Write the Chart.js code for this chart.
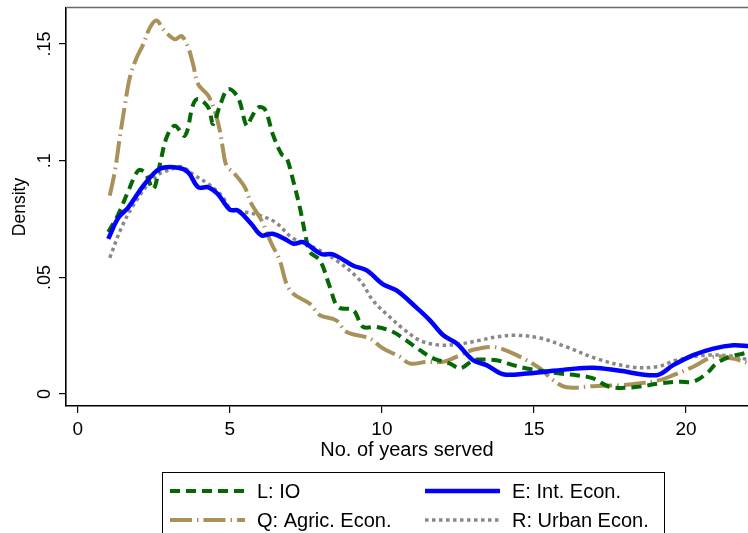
<!DOCTYPE html>
<html>
<head>
<meta charset="utf-8">
<script src="https://cdn.jsdelivr.net/npm/chart.js@4.4.1/dist/chart.umd.min.js"></script>
<style>
  html, body { margin: 0; padding: 0; background: #fff; }
  #wrap { width: 748px; height: 533px; }
</style>
</head>
<body>
<div id="wrap"><canvas id="densityChart" width="748" height="533"></canvas></div>
<script>
// ── Data ──
const xTickValues = [0, 5, 10, 15, 20];
const xTickLabels = ['0', '5', '10', '15', '20'];
const yTickValues = [0, 0.05, 0.1, 0.15];
const yTickLabels = ['0', '.05', '.1', '.15'];

// L: IO
const ioX = [1.0, 1.33, 1.66, 1.98, 2.2, 2.48, 2.7, 2.92, 3.19, 3.52, 3.79, 3.96, 4.29, 4.45, 4.67, 4.94, 5.27, 5.55, 5.71, 5.93, 6.15, 6.42, 6.7, 6.86, 7.08, 7.3, 7.52, 7.63, 7.96, 8.29, 8.56, 9.06, 9.38, 9.82, 10.37, 10.8, 11.25, 11.7, 12.24, 12.57, 13.0, 13.22, 13.77, 14.32, 14.76, 15.86, 16.4, 16.95, 17.5, 18.27, 19.14, 19.8, 20.24, 20.68, 21.0, 21.45, 21.89, 22.1];
const ioY = [.0694, .077, .087, .0957, .095, .0879, .0986, .110, .115, .1107, .124, .1264, .1228, .1157, .1235, .1306, .127, .115, .1185, .1228, .122, .111, .1028, .1014, .0915, .080, .0658, .0608, .0573, .0459, .0373, .0359, .0288, .0288, .0266, .023, .0188, .0152, .0131, .011, .0145, .0148, .0145, .0124, .011, .0088, .0081, .0067, .0031, .0029, .0046, .0053, .0053, .0088, .0131, .016, .0174, .018];

// E: Int. Econ.
const intX = [1.0, 1.33, 1.66, 2.2, 2.7, 3.3, 3.63, 3.96, 4.29, 4.6, 5.0, 5.27, 5.7, 6.04, 6.4, 6.8, 7.1, 7.41, 8.0, 8.4, 9.06, 9.5, 10.04, 10.48, 11.1, 11.58, 12.02, 12.46, 13.0, 13.44, 13.99, 14.76, 15.3, 16.18, 16.95, 17.83, 19.04, 19.58, 20.24, 20.9, 21.56, 22.1];
const intY = [.0665, .0755, .080, .090, .0965, .097, .095, .0886, .0886, .0857, .079, .0786, .073, .068, .0687, .0665, .0644, .0651, .060, .0598, .055, .053, .047, .0444, .0375, .0316, .0252, .0217, .0145, .0124, .0085, .0088, .0095, .0107, .0113, .010, .0081, .0124, .0167, .0195, .0209, .0205];

// Q: Agric. Econ.
const agrX = [1.05, 1.22, 1.38, 1.55, 1.71, 1.93, 2.15, 2.37, 2.59, 2.81, 3.19, 3.41, 3.63, 3.79, 3.96, 4.29, 4.5, 4.67, 4.78, 4.89, 5.16, 5.49, 5.71, 6.04, 6.37, 6.64, 6.86, 7.08, 7.63, 7.96, 8.5, 8.84, 9.6, 10.04, 10.59, 10.92, 11.47, 12.02, 12.57, 13.0, 13.66, 14.21, 14.76, 15.2, 15.63, 16.07, 16.95, 17.83, 18.49, 19.14, 19.58, 20.24, 20.9, 21.56, 22.1];
const agrY = [.085, .0957, .110, .124, .1356, .144, .1498, .157, .160, .1562, .152, .1534, .1484, .1413, .1327, .1278, .1214, .1128, .1043, .0979, .0943, .0886, .0815, .0744, .0644, .0573, .0473, .043, .0387, .0338, .0316, .0266, .0238, .0195, .016, .0131, .0138, .0138, .0167, .019, .0202, .018, .0145, .011, .006, .0029, .0034, .0038, .0046, .006, .0081, .0117, .016, .0152, .013];

// R: Urban Econ.
const urbX = [1.05, 1.44, 1.88, 2.53, 3.08, 3.41, 3.85, 4.29, 4.73, 5.05, 5.5, 5.99, 6.5, 7.05, 7.63, 8.5, 9.28, 9.71, 10.26, 10.7, 11.25, 11.9, 12.57, 13.2, 13.77, 14.38, 15.2, 16.07, 17.06, 18.16, 19.04, 19.69, 20.68, 21.56, 22.1];
const urbY = [.0584, .0715, .082, .093, .0964, .0974, .0936, .090, .085, .079, .078, .0765, .0736, .067, .0637, .0573, .0487, .040, .033, .028, .023, .021, .0215, .023, .0245, .0252, .024, .0202, .0152, .0117, .0117, .0145, .0167, .0162, .0145];

const FONT = '"Liberation Sans", Arial, Helvetica, sans-serif';

// zip two arrays into {x, y} points for a linear x axis
function toPoints(xs, ys) {
    return xs.map((x, i) => ({ x: x, y: ys[i] }));
}

// ── Extra drawing: grey top frame, vertical y tick labels, boxed legend ──
const stataExtras = {
    id: 'stataExtras',
    afterDraw(chart) {
        const { ctx, chartArea } = chart;
        const yScale = chart.scales.y;
        ctx.save();

        // grey top edge of the plot region
        ctx.strokeStyle = '#6a6a6a';
        ctx.lineWidth = 1.6;
        ctx.beginPath();
        ctx.moveTo(chartArea.left, chartArea.top - 0.5);
        ctx.lineTo(chartArea.right, chartArea.top - 0.5);
        ctx.stroke();

        // y tick labels written bottom-to-top, like Stata
        ctx.fillStyle = '#000';
        ctx.font = '18px ' + FONT;
        ctx.textAlign = 'center';
        ctx.textBaseline = 'alphabetic';
        yTickValues.forEach((v, i) => {
            const py = yScale.getPixelForValue(v);
            ctx.save();
            ctx.translate(50, py);
            ctx.rotate(-Math.PI / 2);
            ctx.fillText(yTickLabels[i], 0, 0);
            ctx.restore();
        });

        // legend box
        ctx.strokeStyle = '#000';
        ctx.lineWidth = 1;
        ctx.strokeRect(162.5, 472.5, 502, 80);

        // legend order: L, E / Q, R  (two columns)
        const order = [1, 0, 2, 3];
        const slots = [
            { x: 170, y: 491 }, { x: 425, y: 491 },
            { x: 170, y: 520 }, { x: 425, y: 520 }
        ];
        ctx.font = '20px ' + FONT;
        order.forEach((dsIndex, k) => {
            const ds = chart.data.datasets[dsIndex];
            const s = slots[k];
            ctx.save();
            ctx.strokeStyle = ds.borderColor;
            ctx.lineWidth = ds.borderWidth;
            ctx.lineCap = 'butt';
            ctx.setLineDash(ds.borderDash || []);
            ctx.beginPath();
            ctx.moveTo(s.x, s.y);
            ctx.lineTo(s.x + 75, s.y);
            ctx.stroke();
            ctx.restore();

            ctx.fillStyle = '#000';
            ctx.textAlign = 'left';
            ctx.textBaseline = 'middle';
            ctx.fillText(ds.label, s.x + 87, s.y + 1);
        });

        ctx.restore();
    }
};

function initDensityChart() {
    const ctx = document.getElementById('densityChart').getContext('2d');
    new Chart(ctx, {
        type: 'line',
        data: {
            datasets: [
                { label: 'E: Int. Econ.', data: toPoints(intX, intY), borderColor: '#0000ff', borderWidth: 4.5 },
                { label: 'L: IO', data: toPoints(ioX, ioY), borderColor: '#056805', borderWidth: 4, borderDash: [10, 6] },
                { label: 'Q: Agric. Econ.', data: toPoints(agrX, agrY), borderColor: '#a8925a', borderWidth: 4, borderDash: [22, 5, 1.5, 5] },
                { label: 'R: Urban Econ.', data: toPoints(urbX, urbY), borderColor: '#888888', borderWidth: 3.5, borderDash: [3.5, 3.5] }
            ]
        },
        options: {
            responsive: false,
            animation: false,
            parsing: false,
            layout: { padding: { top: 8, right: 0, bottom: 71, left: 0 } },
            elements: {
                point: { radius: 0 },
                line: { tension: 0.35, fill: false, borderCapStyle: 'butt' }
            },
            plugins: { legend: { display: false }, tooltip: { enabled: false } },
            scales: {
                x: {
                    type: 'linear',
                    min: -0.39,
                    max: 22.04,
                    afterBuildTicks: (scale) => { scale.ticks = xTickValues.map(v => ({ value: v })); },
                    afterFit: (scale) => { scale.height = 56; },
                    grid: { drawOnChartArea: false, tickLength: 7, color: '#000', lineWidth: 1.2 },
                    border: { color: '#000', width: 1.6 },
                    ticks: {
                        color: '#000',
                        padding: 5,
                        maxRotation: 0,
                        font: { family: FONT, size: 19 },
                        callback: (v, i) => xTickLabels[i]
                    },
                    title: {
                        display: true,
                        text: 'No. of years served',
                        color: '#000',
                        font: { family: FONT, size: 20 },
                        padding: { top: 0, bottom: 0 }
                    }
                },
                y: {
                    type: 'linear',
                    min: -0.0051,
                    max: 0.1654,
                    afterBuildTicks: (scale) => { scale.ticks = yTickValues.map(v => ({ value: v })); },
                    afterFit: (scale) => { scale.width = 66; },
                    grid: { drawOnChartArea: false, tickLength: 7, color: '#000', lineWidth: 1.2 },
                    border: { color: '#000', width: 1.6 },
                    ticks: { display: false },
                    title: {
                        display: true,
                        text: 'Density',
                        color: '#000',
                        font: { family: FONT, size: 17.5 },
                        padding: { top: 10, bottom: 0 }
                    }
                }
            }
        },
        plugins: [stataExtras]
    });
}

document.addEventListener('DOMContentLoaded', initDensityChart);
</script>
</body>
</html>
